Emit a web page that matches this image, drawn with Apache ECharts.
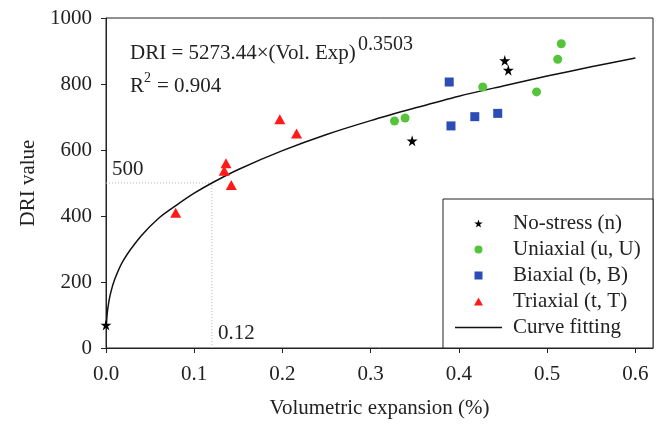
<!DOCTYPE html>
<html>
<head>
<meta charset="utf-8">
<script src="https://cdn.jsdelivr.net/npm/echarts@6/dist/echarts.min.js"></script>
<style>html,body{margin:0;padding:0;background:#fff}#c{width:663px;height:427px}</style>
</head>
<body>
<div id="c"></div>
<script>
// ---- data ----
const noStress = [[0.0, 70], [0.347, 628], [0.452, 871], [0.456, 842]];
const uniaxial = [[0.327, 688], [0.339, 697], [0.427, 791], [0.488, 776], [0.512, 875], [0.516, 922]];
const biaxial = [[0.389, 806], [0.391, 673], [0.418, 701], [0.444, 711]];
const triaxial = [[0.079, 410], [0.134, 537], [0.136, 560], [0.142, 494], [0.197, 693], [0.216, 650]];
// fitted curve as traced on the picture
const curveX = [0.0005, 0.001, 0.002, 0.005, 0.01, 0.02, 0.04, 0.06, 0.08, 0.10, 0.12, 0.15, 0.20, 0.25, 0.30, 0.35, 0.40, 0.45, 0.50, 0.55, 0.60];
const curveY = [73, 93, 119, 164, 209, 267, 340, 394, 433, 469, 500, 541, 598, 647, 689, 727, 763, 794, 824, 852, 879];
const refX = 0.12, refY = 500;
const xTicks = [0, 0.1, 0.2, 0.3, 0.4, 0.5, 0.6];
const yTicks = [0, 200, 400, 600, 800, 1000];
const seriesNames = ['No-stress (n)', 'Uniaxial (u, U)', 'Biaxial (b, B)', 'Triaxial (t, T)', 'Curve fitting'];

const FONT = '"Liberation Serif", "Times New Roman", serif';
const star = 'path://M50,0 L61,35 L98,35 L68,57 L79,91 L50,70 L21,91 L32,57 L2,35 L39,35 Z';
const sq = 'path://M0,0 L10,0 L10,10 L0,10 Z';
const tri = 'path://M5,0 L10,9 L0,9 Z';
const circ = 'path://M5,0 A5,5 0 1 1 4.99,0 Z';
const lineIcon = 'path://M0,0 L100,0 L100,3 L0,3 Z';
const chart = echarts.init(document.getElementById('c'));
const curve = curveX.map((x, i) => [x, curveY[i]]);

chart.setOption({
  animation: false,
  backgroundColor: '#fff',
  grid: { left: 106, top: 18, right: 10, bottom: 79, show: true, borderColor: '#222', borderWidth: 1 },
  xAxis: {
    type: 'value', min: 0, max: 0.62,
    name: 'Volumetric expansion (%)', nameLocation: 'middle', nameGap: 50,
    nameTextStyle: { fontFamily: FONT, fontSize: 21, color: '#222' },
    axisLine: { lineStyle: { color: '#222' } },
    axisTick: { customValues: xTicks, length: 5, lineStyle: { color: '#222' } },
    axisLabel: { customValues: xTicks, margin: 16, fontFamily: FONT, fontSize: 21, color: '#222', formatter: v => v.toFixed(1) },
    splitLine: { show: false }
  },
  yAxis: {
    type: 'value', min: 0, max: 1000, interval: 200,
    name: 'DRI value', nameLocation: 'middle', nameGap: 66, nameRotate: 90,
    nameTextStyle: { fontFamily: FONT, fontSize: 21, color: '#222' },
    axisLine: { show: true, lineStyle: { color: '#222' } },
    axisTick: { show: true, length: 5, lineStyle: { color: '#222' } },
    axisLabel: { margin: 14, fontFamily: FONT, fontSize: 21, color: '#222', formatter: v => String(v) },
    splitLine: { show: false }
  },
  legend: {
    left: 455, top: 213, orient: 'vertical', padding: 0, itemGap: 5,
    itemWidth: 47, itemHeight: 8, symbolKeepAspect: true,
    textStyle: { fontFamily: FONT, fontSize: 21, color: '#222', lineHeight: 20, padding: [0, 0, 0, 6] },
    data: [
      { name: seriesNames[0], icon: star },
      { name: seriesNames[1], icon: circ },
      { name: seriesNames[2], icon: sq },
      { name: seriesNames[3], icon: tri },
      { name: seriesNames[4], icon: lineIcon }
    ]
  },
  graphic: [
    { type: 'rect', shape: { x: 443, y: 199, width: 210, height: 149 }, style: { fill: '#fff', stroke: '#222', lineWidth: 1 }, z: 3 },
    { type: 'text', x: 130, y: 53, style: { text: 'DRI = 5273.44×(Vol. Exp)', font: '21px ' + FONT, fill: '#222', verticalAlign: 'middle' } },
    { type: 'text', x: 358, y: 45, style: { text: '0.3503', font: '20px ' + FONT, fill: '#222', verticalAlign: 'middle' } },
    { type: 'text', x: 130, y: 86, style: { text: 'R', font: '21px ' + FONT, fill: '#222', verticalAlign: 'middle' } },
    { type: 'text', x: 144, y: 78, style: { text: '2', font: '14px ' + FONT, fill: '#222', verticalAlign: 'middle' } },
    { type: 'text', x: 157, y: 86, style: { text: '= 0.904', font: '21px ' + FONT, fill: '#222', verticalAlign: 'middle' } },
    { type: 'text', x: 112, y: 169, style: { text: '500', font: '21px ' + FONT, fill: '#222', verticalAlign: 'middle' } },
    { type: 'text', x: 218, y: 333, style: { text: '0.12', font: '21px ' + FONT, fill: '#222', verticalAlign: 'middle' } }
  ],
  series: [
    { name: 'Guide', type: 'line', data: [[0, refY], [refX, refY], [refX, 0]], symbol: 'none', silent: true,
      lineStyle: { color: '#b5b5b5', width: 1, type: [1, 2] }, z: 1 },
    { name: seriesNames[4], type: 'line', data: curve, symbol: 'none', smooth: 0.3,
      lineStyle: { color: '#111', width: 1.5 }, itemStyle: { color: '#111' }, z: 2 },
    { name: seriesNames[0], type: 'scatter', data: noStress, symbol: star, symbolSize: 11, itemStyle: { color: '#000', opacity: 1 }, z: 5 },
    { name: seriesNames[1], type: 'scatter', data: uniaxial, symbol: 'circle', symbolSize: 9, itemStyle: { color: '#55c43b', opacity: 1 }, z: 5 },
    { name: seriesNames[2], type: 'scatter', data: biaxial, symbol: 'rect', symbolSize: 9, itemStyle: { color: '#2c4db5', opacity: 1 }, z: 5 },
    { name: seriesNames[3], type: 'scatter', data: triaxial, symbol: 'triangle', symbolSize: [11, 10], itemStyle: { color: '#ff1a1a', opacity: 1 }, z: 5 }
  ]
});
</script>
</body>
</html>
